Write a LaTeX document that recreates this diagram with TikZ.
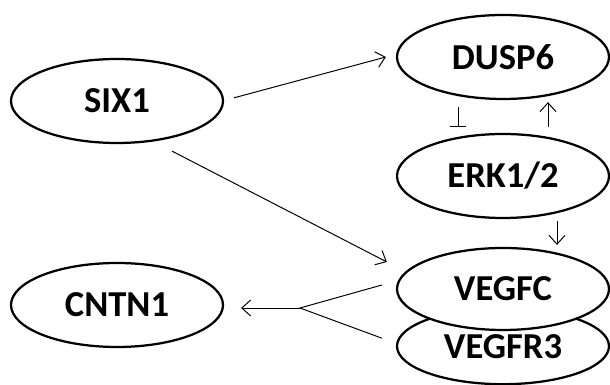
\documentclass[tikz,border=0pt]{standalone}
\usepackage{fontspec}
\setmainfont{Carlito}
\usepackage{tikz}
\usetikzlibrary{shapes,arrows.meta,positioning,calc}

\begin{document}
\begin{tikzpicture}[
    gene/.style={ellipse, draw, line width=1.6pt, fill=white, minimum width=5.3cm, minimum height=2.1cm, inner sep=0pt, font=\bfseries\fontsize{26}{30}\selectfont},
    arrow/.style={-{Straight Barb[length=2.2mm, width=4mm]}, line width=0.7pt},
    inhibit/.style={-{Bar[width=4mm]}, line width=0.7pt}
]
\useasboundingbox (0,0) rectangle (15.25,9.625);

% Genes
\node[gene] (six) at (2.925, 7.1) {SIX1};
\node[gene] (dusp) at (12.575, 8.2) {DUSP6};
\node[gene] (erk) at (12.575, 5.225) {ERK1/2};
\node[gene, minimum height=1.9cm] (vegfr) at (12.575, 0.97) {VEGFR3};
\node[gene, minimum height=2.05cm] (vegfc) at (12.575, 2.4) {VEGFC};
\node[gene] (cntn) at (2.925, 2.0) {CNTN1};

% SIX1 targets
\draw[arrow] ($(six.east)+(0.25,0.08)$) -- ($(dusp.west)+(-0.25,0)$);
\draw[arrow] ($(six.south)+(1.375,-0.175)$) -- ($(vegfc.west)+(-0.225,0.675)$);

% ERK1/2 loop
\draw[inhibit] ($(dusp.south)+(-1.125,-0.175)$) -- ($(erk.north)+(-1.125,0.15)$);
\draw[arrow] ($(erk.north)+(1.125,0.15)$) -- ($(dusp.south)+(1.125,-0.05)$);
\draw[arrow] ($(erk.south)+(1.35,-0.05)$) -- ($(vegfc.north)+(1.35,0.05)$);

% VEGFC / VEGFR3 to CNTN1
\coordinate (join) at (7.5, 1.925);
\draw[line width=0.7pt] ($(vegfc.west)+(-0.35,0.1)$) -- (join) -- ($(vegfr.west)+(-0.35,0.2)$);
\draw[arrow, shorten >=0.425cm] (join) -- (join -| cntn.east);

\end{tikzpicture}
\end{document}
